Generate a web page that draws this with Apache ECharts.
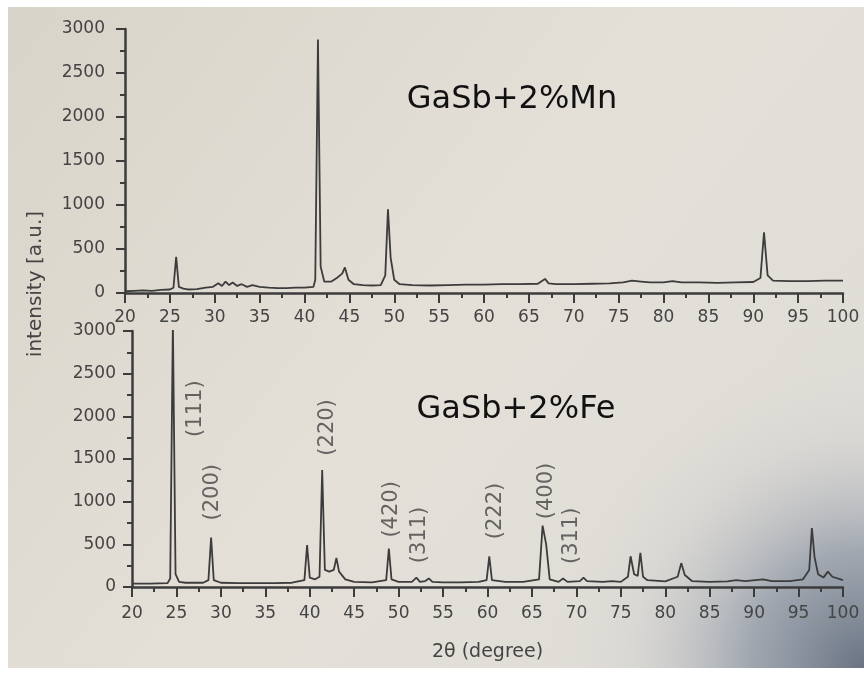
<!DOCTYPE html>
<html>
<head>
<meta charset="utf-8">
<script src="https://cdn.jsdelivr.net/npm/echarts@6/dist/echarts.min.js"></script>
<style>html,body{margin:0;padding:0;background:#fff}#c{width:864px;height:675px}</style>
</head>
<body>
<div id="c"></div>
<script>
// ---- data (2θ in degrees, intensity in a.u.) ----
const xTicks = [20,25,30,35,40,45,50,55,60,65,70,75,80,85,90,95,100];
const yTicks = [0,500,1000,1500,2000,2500,3000];
const panelLabels = ['GaSb+2%Mn', 'GaSb+2%Fe'];
const mnData = [
 [20,20],[21,25],[22,30],[23,25],[24,35],[25,40],[25.4,60],[25.7,410],[26.0,70],[26.5,50],[27,40],[28,45],[29,60],[29.8,70],[30.4,110],[30.8,80],[31.2,130],[31.6,90],[32,120],[32.5,80],[33,100],[33.6,70],[34.2,90],[35,70],[36,60],[37,55],[38,55],[39,60],[40,60],[41,70],[41.2,150],[41.5,2880],[41.8,300],[42.2,130],[43,130],[43.6,170],[44.2,220],[44.5,290],[44.9,150],[45.5,100],[46.5,90],[47.5,85],[48.5,90],[49.0,200],[49.3,950],[49.6,400],[50.0,150],[50.6,100],[52,90],[54,85],[56,90],[58,95],[60,95],[62,100],[64,100],[66,105],[66.5,140],[66.8,160],[67.2,110],[68,100],[70,100],[72,105],[74,110],[75.5,120],[76.5,140],[77.5,130],[78.5,120],[80,120],[81,135],[82,120],[84,120],[86,115],[88,120],[90,125],[90.8,170],[91.2,690],[91.6,200],[92.2,140],[94,135],[96,135],[98,140],[100,140]
];
const feData = [
 [20,40],[22,40],[24,45],[24.3,100],[24.6,3100],[24.9,150],[25.3,60],[26,50],[27,50],[28,50],[28.6,80],[28.9,580],[29.2,80],[30,50],[32,45],[34,45],[36,45],[38,50],[39.4,80],[39.7,490],[40.0,110],[40.6,90],[41.1,120],[41.4,1370],[41.7,200],[42.2,180],[42.7,200],[43.0,340],[43.3,180],[44,90],[45,60],[47,55],[48.6,80],[48.9,450],[49.2,90],[50,60],[51.5,60],[52,110],[52.4,60],[53,70],[53.4,100],[53.8,60],[55,55],[57,55],[59,60],[59.9,80],[60.2,360],[60.5,80],[62,60],[64,60],[65.8,90],[66.2,720],[66.6,500],[67,90],[68,60],[68.5,100],[69,60],[70.4,70],[70.8,110],[71.2,70],[73,60],[74,70],[75,60],[75.8,120],[76.1,360],[76.5,150],[76.9,130],[77.2,400],[77.5,120],[78,80],[80,65],[81.4,120],[81.8,280],[82.2,140],[83,70],[85,60],[87,65],[88,80],[89,70],[91,90],[92,70],[94,70],[95.5,90],[96.2,200],[96.5,690],[96.8,350],[97.2,150],[97.8,110],[98.3,180],[98.8,120],[100,80]
];
const hklNames = ['(111)','(200)','(220)','(420)','(311)','(222)','(400)','(311)'];
const hklAnchors = [[27.1,2090],[29.1,1110],[41.95,1870],[49.25,910],[52.3,610],[60.85,890],[66.7,1125],[69.5,600]];

// ---- styles ----
const FONT = 'DejaVu Sans';
const INK = '#3c3c3c';
const TXT = '#444444';

function xAxis(gi, withName) {
  return {
    type: 'value', gridIndex: gi, min: xTicks[0], max: xTicks[xTicks.length-1], interval: 5,
    axisLine: {show: true, onZero: false, lineStyle: {color: INK, width: 2.5}},
    axisTick: {show: true, inside: false, length: 10, lineStyle: {color: INK, width: 2}},
    minorTick: {show: true, splitNumber: 2, length: 5, lineStyle: {color: INK, width: 2}},
    splitLine: {show: false},
    axisLabel: {color: TXT, fontFamily: FONT, fontSize: 17, margin: gi === 0 ? 16 : 18,
      showMinLabel: true, showMaxLabel: true, formatter: v => String(v)},
    name: withName ? '2θ (degree)' : '', nameLocation: 'middle', nameGap: 56,
    nameTextStyle: {color: TXT, fontFamily: FONT, fontSize: 19}
  };
}
function yAxis(gi) {
  return {
    type: 'value', gridIndex: gi, min: yTicks[0], max: yTicks[yTicks.length-1], interval: 500,
    axisLine: {show: true, onZero: false, lineStyle: {color: INK, width: 2.5}},
    axisTick: {show: true, inside: false, length: 9, lineStyle: {color: INK, width: 2}},
    minorTick: {show: true, splitNumber: 2, length: 5, lineStyle: {color: INK, width: 2}},
    splitLine: {show: false},
    axisLabel: {color: TXT, fontFamily: FONT, fontSize: 17, margin: gi === 0 ? 20 : 16, formatter: v => String(v)}
  };
}

const chart = echarts.init(document.getElementById('c'), null, {renderer: 'canvas'});
chart.setOption({
  backgroundColor: '#ffffff',
  animation: false,
  grid: [
    {left: 125, right: 21, top: 29, bottom: 382, containLabel: false, outerBoundsMode: 'none'},
    {left: 132, right: 21, top: 331, bottom: 88, containLabel: false, outerBoundsMode: 'none'}
  ],
  xAxis: [xAxis(0, false), xAxis(1, true)],
  yAxis: [yAxis(0), yAxis(1)],
  graphic: {elements: [
    {type: 'rect', z: -100, silent: true, shape: {x: 8, y: 7, width: 856, height: 661},
     style: {fill: {type: 'linear', x: 0, y: 0, x2: 1, y2: 1, colorStops: [
       {offset: 0, color: '#d9d4c9'}, {offset: 0.5, color: '#e4e0d8'}, {offset: 1, color: '#dedcd8'}]}}},
    {type: 'rect', z: -99, silent: true, shape: {x: 8, y: 7, width: 856, height: 661},
     style: {fill: {type: 'radial', x: 1.0, y: 1.0, r: 0.5, colorStops: [
       {offset: 0, color: 'rgba(105,115,130,1)'}, {offset: 0.35, color: 'rgba(150,158,170,0.85)'},
       {offset: 0.7, color: 'rgba(200,200,200,0.3)'}, {offset: 1, color: 'rgba(228,224,216,0)'}]}}},
    {type: 'text', z: 10, silent: true, x: 512, y: 100,
     style: {text: panelLabels[0], fill: '#111', font: '32px "DejaVu Sans"', textAlign: 'center', textVerticalAlign: 'middle'}},
    {type: 'text', z: 10, silent: true, x: 516, y: 410,
     style: {text: panelLabels[1], fill: '#111', font: '32px "DejaVu Sans"', textAlign: 'center', textVerticalAlign: 'middle'}},
    {type: 'text', z: 10, silent: true, x: 36, y: 284, rotation: Math.PI / 2,
     style: {text: 'intensity [a.u.]', fill: TXT, font: '20px "DejaVu Sans"', textAlign: 'center', textVerticalAlign: 'middle'}}
  ]},
  series: [
    {type: 'line', xAxisIndex: 0, yAxisIndex: 0, data: mnData, showSymbol: false, silent: true, clip: true,
     lineStyle: {color: INK, width: 1.8}},
    {type: 'line', xAxisIndex: 1, yAxisIndex: 1, data: feData, showSymbol: false, silent: true, clip: true,
     lineStyle: {color: INK, width: 1.8}},
    {type: 'scatter', xAxisIndex: 1, yAxisIndex: 1, symbolSize: 0, silent: true,
     data: hklAnchors.map((p, i) => ({value: p, name: hklNames[i]})),
     label: {show: true, position: 'inside', rotate: 90, formatter: p => p.name,
       color: TXT, fontFamily: FONT, fontSize: 21, align: 'center', verticalAlign: 'middle'}}
  ]
});
</script>
</body>
</html>
